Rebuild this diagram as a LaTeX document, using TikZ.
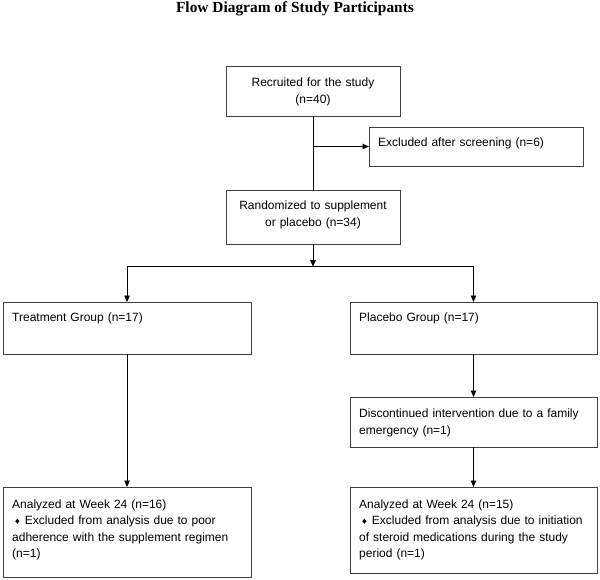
\documentclass[tikz,border=0pt]{standalone}
\usepackage{fontspec}
\setmainfont{Liberation Serif}
\newfontfamily\arialf{Liberation Sans}
\newfontfamily\djvf{DejaVu Sans}
\usetikzlibrary{arrows.meta}
\newcommand\mydiamond{{\djvf\fontsize{7.5}{7.5}\selectfont ♦}}
\begin{document}
\begin{tikzpicture}[x=1pt,y=-1pt,
  box/.style={draw=black!75, line width=0.9pt, inner sep=0pt, outer sep=0pt, anchor=north west},
  txt/.style={inner sep=0pt, font=\arialf\fontsize{12}{16.5}\selectfont, align=left, text width=238pt, anchor=base west},
  ctxt/.style={inner sep=0pt, font=\arialf\fontsize{12}{16.5}\selectfont, align=center, text width=170pt, anchor=base},
  conn/.style={line width=0.9pt, black},
  arr/.style={conn, -{Triangle[length=6.5pt,width=5.5pt]}}]
\useasboundingbox (0,0) rectangle (600,580);
\fill[white] (0,0) rectangle (600,580);
\node[font=\bfseries\fontsize{15.4}{18}\selectfont, anchor=base, inner sep=0pt] (title) at (295,13) {Flow Diagram of Study Participants};
% boxes
\node[box, minimum width=174pt, minimum height=50pt] (recruit) at (226,66) {};
\node[box, minimum width=214pt, minimum height=39pt] (excl) at (369,127) {};
\node[box, minimum width=174pt, minimum height=54pt] (random) at (226,190) {};
\node[box, minimum width=248pt, minimum height=52pt] (treat) at (3,302) {};
\node[box, minimum width=247pt, minimum height=52pt] (plac) at (350,302) {};
\node[box, minimum width=247pt, minimum height=50pt] (disc) at (350,397) {};
\node[box, minimum width=248pt, minimum height=90pt] (anT) at (3,487) {};
\node[box, minimum width=247pt, minimum height=86pt] (anP) at (350,487) {};
% texts
\node[ctxt] (recruitT) at (313,87) {Recruited for the study\\(n=40)};
\node[txt] (exclT) at (378,146.5) {Excluded after screening (n=6)};
\node[ctxt] (randomT) at (313,210) {Randomized to supplement\\or placebo (n=34)};
\node[txt] (treatT) at (12,321) {Treatment Group (n=17)};
\node[txt] (placT) at (359,321) {Placebo Group (n=17)};
\node[txt] (discT) at (359,417.5) {Discontinued intervention due to a family\\emergency (n=1)};
\node[txt] (anTT) at (12,508) {Analyzed at Week 24 (n=16)\\\hspace*{2pt}\mydiamond\ Excluded from analysis due to poor\\adherence with the supplement regimen\\(n=1)};
\node[txt] (anPT) at (359,508) {Analyzed at Week 24 (n=15)\\\hspace*{2pt}\mydiamond\ Excluded from analysis due to initiation\\of steroid medications during the study\\period (n=1)};
% connectors
\draw[conn] (recruit.south) -- (random.north);
\coordinate (ex) at (recruit.south |- excl.west);
\draw[arr] (ex) -- (excl.west);
\coordinate (split) at (313,266.7);
\draw[arr] (random.south) -- (split);
\coordinate (splitL) at (treat.north |- split);
\coordinate (splitR) at (plac.north |- split);
\draw[conn] (splitL) -- (splitR);
\draw[arr] (splitL) -- (treat.north);
\draw[arr] (splitR) -- (plac.north);
\draw[arr] (treat.south) -- (anT.north);
\draw[arr] (plac.south) -- (disc.north);
\draw[arr] (disc.south) -- (anP.north);
\end{tikzpicture}
\end{document}
